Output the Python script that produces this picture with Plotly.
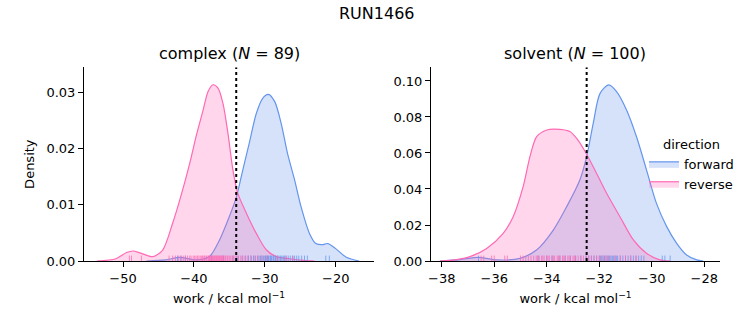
import plotly.graph_objects as go
from plotly.subplots import make_subplots

# ---------------- data ----------------
suptitle = "RUN1466"
panel_titles = ["complex (<i>N</i> = 89)", "solvent (<i>N</i> = 100)"]
xlabel = "work / kcal mol<sup>−1</sup>"
ylabel = "Density"

# complex panel: KDE curves
cx_rev = [-53.7, -51.0, -49.5, -48.6, -47.5, -45.8, -44.4, -43.0, -42.0, -40.6, -39.7, -38.7, -38.0,
          -37.3, -36.6, -35.9, -35.2, -34.5, -33.8, -32.6, -31.2, -29.8, -28.4, -26.5, -24.5, -23.0]
cy_rev = [0.0, 0.0004, 0.0015, 0.00178, 0.0014, 0.00077, 0.00195, 0.0067, 0.0108, 0.0173, 0.0221,
          0.0268, 0.0301, 0.0313, 0.0307, 0.0280, 0.0227, 0.0162, 0.0120, 0.0085, 0.0049, 0.0020,
          0.0008, 0.0004, 0.0001, 0.0]
cx_fwd = [-46.7, -44.0, -42.0, -39.7, -37.8, -36.4, -35.0, -34.0, -33.1, -32.2, -31.2, -30.3, -29.5,
          -28.6, -27.7, -26.8, -25.8, -24.9, -23.7, -22.8, -21.9, -21.1, -20.0, -18.5, -16.7]
cy_fwd = [0.0, 0.0002, 0.00065, 0.0002, 0.0008, 0.0037, 0.0079, 0.0114, 0.0162, 0.0209, 0.0262,
          0.0289, 0.0296, 0.0283, 0.0245, 0.0191, 0.0144, 0.0097, 0.0049, 0.0031, 0.0029, 0.0031,
          0.0022, 0.00065, 0.0]

# solvent panel: KDE curves
sx_rev = [-38.07, -37.5, -36.93, -36.29, -35.66, -35.28, -34.9, -34.64, -34.39, -34.0, -33.5, -33.12,
          -32.86, -32.61, -32.23, -31.72, -31.21, -30.70, -30.2, -29.69, -29.3]
sy_rev = [0.0, 0.0006, 0.0024, 0.007, 0.0154, 0.0246, 0.0413, 0.058, 0.069, 0.0728, 0.0731, 0.0719,
          0.0681, 0.0626, 0.0524, 0.0376, 0.0246, 0.0117, 0.0043, 0.0006, 0.0]
sx_fwd = [-38.07, -37.3, -36.61, -35.9, -35.02, -34.39, -33.75, -33.24, -32.74, -32.48, -32.23, -31.97,
          -31.64, -31.34, -30.96, -30.58, -30.2, -29.82, -29.43, -29.05, -28.67, -28.29, -28.04]
sy_fwd = [0.0, 0.0008, 0.002, 0.0006, 0.0015, 0.0061, 0.0172, 0.0302, 0.045, 0.058, 0.0765, 0.0931,
          0.0978, 0.0941, 0.0839, 0.069, 0.0506, 0.032, 0.0191, 0.0098, 0.0033, 0.0006, 0.0]

# rug samples (estimated)
c_rug_rev = [-49.1, -48.8, -47.4, -43.5, -43.0, -42.6, -42.2, -41.9, -41.5, -41.2, -40.9, -40.6,
             -40.4, -40.1, -39.9, -39.7, -39.5, -39.3, -39.1, -38.9, -38.8, -38.6, -38.5, -38.3,
             -38.2, -38.0, -37.9, -37.8, -37.7, -37.6, -37.5, -37.4, -37.3, -37.2, -37.1, -37.0,
             -36.9, -36.8, -36.7, -36.6, -36.5, -36.4, -36.3, -36.2, -36.1, -36.0, -35.9, -35.8,
             -35.6, -35.5, -35.3, -35.2, -35.0, -34.8, -34.6, -34.4, -34.2, -34.0, -33.7, -33.4,
             -33.1, -32.8, -32.4, -32.0, -31.5, -31.0, -30.4, -29.8, -28.2, -27.0, -26.0]
c_rug_fwd = [-42.3, -41.8, -41.2, -37.5, -35.8, -34.5, -33.8, -33.2, -32.7, -32.3, -31.9, -31.6,
             -31.3, -31.0, -30.8, -30.6, -30.4, -30.2, -30.0, -29.9, -29.7, -29.6, -29.5, -29.4,
             -29.2, -29.1, -29.0, -28.8, -28.7, -28.5, -28.4, -28.2, -28.0, -27.8, -27.6, -27.4,
             -27.2, -27.0, -26.7, -26.4, -26.1, -25.8, -25.5, -25.2, -24.8, -24.4, -24.0, -21.4,
             -20.9]
s_rug_rev = [-36.5, -36.4, -36.1, -36.0, -35.6, -35.5, -35.0, -34.9, -34.8, -34.7, -34.6, -34.5,
             -34.4, -34.35, -34.3, -34.2, -34.15, -34.1, -34.0, -33.95, -33.9, -33.8, -33.75, -33.7,
             -33.6, -33.55, -33.5, -33.4, -33.35, -33.3, -33.2, -33.15, -33.1, -33.0, -32.95, -32.9,
             -32.8, -32.7, -32.6, -32.5, -32.4, -32.3, -32.2, -32.1, -32.0, -31.9, -31.8, -31.7,
             -31.6, -31.4, -31.2, -31.0, -30.8, -30.6]
s_rug_fwd = [-36.6, -34.3, -34.0, -33.8, -33.5, -33.3, -33.1, -32.9, -32.7, -32.5, -32.4, -32.3,
             -32.2, -32.1, -32.0, -31.95, -31.9, -31.85, -31.8, -31.75, -31.7, -31.65, -31.6, -31.55,
             -31.5, -31.45, -31.4, -31.35, -31.3, -31.2, -31.1, -31.0, -30.9, -30.8, -30.7, -30.6,
             -30.5, -30.4, -30.3, -29.6, -29.5, -29.3]

dg_complex = -34.03
dg_solvent = -32.48

x_ranges = [[-55.5, -14.6], [-38.41, -27.4]]
y_ranges = [[0, 0.0344], [0, 0.1076]]
x_ticks = [[-50, -40, -30, -20], [-38, -36, -34, -32, -30, -28]]
y_ticks = [[0, 0.01, 0.02, 0.03], [0, 0.02, 0.04, 0.06, 0.08, 0.10]]

FWD = "#6495ED"
REV = "#FF69B4"
FWD_FILL = "rgba(100,149,237,0.27)"
REV_FILL = "rgba(255,105,180,0.27)"

# ---------------- figure ----------------
fig = make_subplots(rows=1, cols=2)

def rug(vals, ytop):
    xs, ys = [], []
    for v in vals:
        xs += [v, v, None]
        ys += [0, ytop, None]
    return xs, ys

panels = [
    (cx_fwd, cy_fwd, cx_rev, cy_rev, c_rug_fwd, c_rug_rev, dg_complex),
    (sx_fwd, sy_fwd, sx_rev, sy_rev, s_rug_fwd, s_rug_rev, dg_solvent),
]
for i, (xf, yf, xr, yr, rf, rr, dg) in enumerate(panels):
    col = i + 1
    fig.add_trace(go.Scatter(x=xf, y=yf, mode="lines", line=dict(color=FWD, width=1.2, shape="spline", smoothing=0.8),
                             fill="tozeroy", fillcolor=FWD_FILL, name="forward", legendgroup="f",
                             showlegend=(i == 0), hoverinfo="skip"), row=1, col=col)
    fig.add_trace(go.Scatter(x=xr, y=yr, mode="lines", line=dict(color=REV, width=1.2, shape="spline", smoothing=0.8),
                             fill="tozeroy", fillcolor=REV_FILL, name="reverse", legendgroup="r",
                             showlegend=(i == 0), hoverinfo="skip"), row=1, col=col)
    ytop = 0.028 * y_ranges[i][1]
    rx, ry = rug(rf, ytop)
    fig.add_trace(go.Scatter(x=rx, y=ry, mode="lines", line=dict(color="rgba(100,149,237,0.75)", width=1),
                             showlegend=False, hoverinfo="skip"), row=1, col=col)
    rx, ry = rug(rr, ytop)
    fig.add_trace(go.Scatter(x=rx, y=ry, mode="lines", line=dict(color="rgba(255,105,180,0.75)", width=1),
                             showlegend=False, hoverinfo="skip"), row=1, col=col)
    fig.add_trace(go.Scatter(x=[dg, dg], y=[0, y_ranges[i][1]], mode="lines",
                             line=dict(color="black", width=2, dash="dot"),
                             showlegend=False, hoverinfo="skip"), row=1, col=col)

axis_common = dict(showline=True, linecolor="black", linewidth=1, ticks="outside", ticklen=5,
                   tickcolor="black", showgrid=False, zeroline=False, mirror=False, automargin=False,
                   tickfont=dict(size=13, color="black"))

fig.update_xaxes(**axis_common)
fig.update_yaxes(**axis_common)

fig.update_layout(
    xaxis=dict(domain=[84 / 753, 374 / 753], range=x_ranges[0], tickvals=x_ticks[0],
               title=dict(text=xlabel, font=dict(size=13), standoff=9)),
    xaxis2=dict(domain=[431 / 753, 720 / 753], range=x_ranges[1], tickvals=x_ticks[1],
                title=dict(text=xlabel, font=dict(size=13), standoff=9)),
    yaxis=dict(domain=[64 / 325, 257.7 / 325], range=y_ranges[0], tickvals=y_ticks[0], tickformat=".2f",
               title=dict(text=ylabel, font=dict(size=13), standoff=8)),
    yaxis2=dict(domain=[64 / 325, 257.7 / 325], range=y_ranges[1], tickvals=y_ticks[1], tickformat=".2f"),
    width=753, height=325,
    margin=dict(l=0, r=0, t=0, b=0, autoexpand=False),
    paper_bgcolor="white", plot_bgcolor="white",
    font=dict(family="DejaVu Sans", color="black"),
    legend=dict(x=644 / 753, y=1 - 132 / 325, xanchor="left", yanchor="top",
                title=dict(text="direction", font=dict(size=13), side="top center"),
                font=dict(size=13), bgcolor="rgba(0,0,0,0)", tracegroupgap=0, itemwidth=30),
    annotations=[
        dict(text=suptitle, x=0.5, y=1 - 13 / 325, xref="paper", yref="paper", showarrow=False,
             font=dict(size=16), xanchor="center", yanchor="middle"),
        dict(text=panel_titles[0], x=229 / 753, y=1 - 54 / 325, xref="paper", yref="paper", showarrow=False,
             font=dict(size=16), xanchor="center", yanchor="middle"),
        dict(text=panel_titles[1], x=575 / 753, y=1 - 54 / 325, xref="paper", yref="paper", showarrow=False,
             font=dict(size=16), xanchor="center", yanchor="middle"),
    ],
)

fig.write_html("out.html")
